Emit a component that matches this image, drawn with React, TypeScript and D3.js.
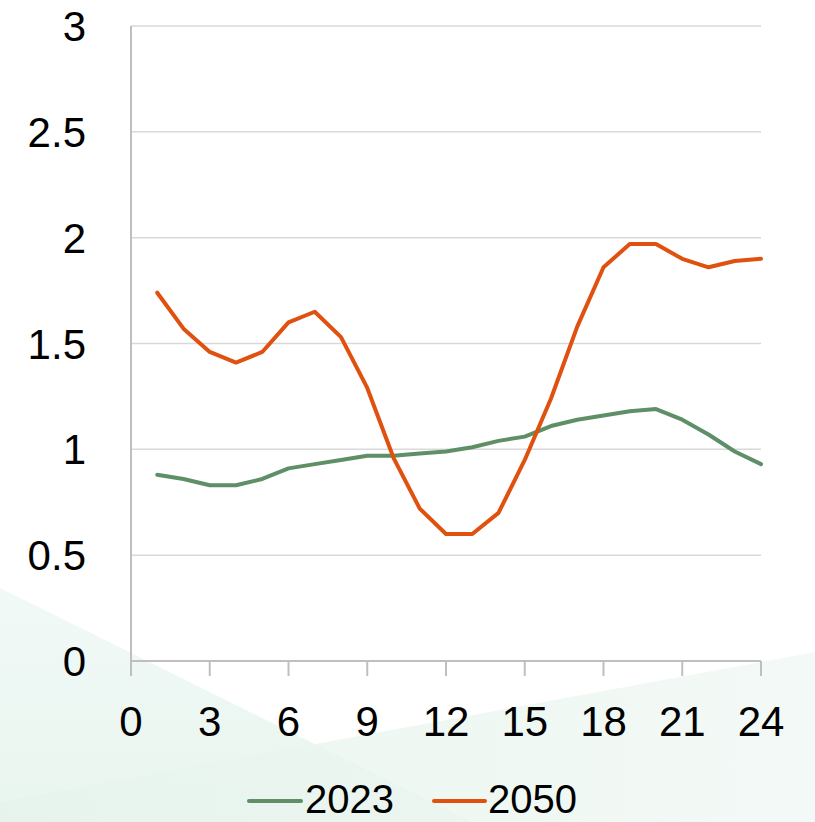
import React from "react";
import * as d3 from "d3";

const hours = d3.range(1, 25);
const series2023 = [0.88, 0.86, 0.83, 0.83, 0.86, 0.91, 0.93, 0.95, 0.97, 0.97, 0.98, 0.99, 1.01, 1.04, 1.06, 1.11, 1.14, 1.16, 1.18, 1.19, 1.14, 1.07, 0.99, 0.93];
const series2050 = [1.74, 1.57, 1.46, 1.41, 1.46, 1.6, 1.65, 1.53, 1.29, 0.96, 0.72, 0.6, 0.6, 0.7, 0.95, 1.24, 1.58, 1.86, 1.97, 1.97, 1.9, 1.86, 1.89, 1.9];
const yTicks = [0, 0.5, 1, 1.5, 2, 2.5, 3];
const xTicks = [0, 3, 6, 9, 12, 15, 18, 21, 24];
const seriesNames = ["2023", "2050"];
const colors = ["#5e8f66", "#e0500f"];

export default function App() {
  const W = 815, H = 822;
  const x = d3.scaleLinear().domain([0, 24]).range([131, 761]);
  const y = d3.scaleLinear().domain([0, 3]).range([661, 26]);
  const line = d3.line<number>().x((_, i) => x(hours[i])).y((d) => y(d));
  const font = "'Liberation Sans', Arial, sans-serif";
  const data = [series2023, series2050];
  return (
    <svg width={W} height={H} style={{ position: "absolute", left: 0, top: 0, background: "#fff" }}>
      <defs>
        <linearGradient id="bg1" x1="0" y1="0" x2="0" y2="1">
          <stop offset="0" stopColor="#eef8f4" />
          <stop offset="1" stopColor="#e3f2eb" />
        </linearGradient>
        <linearGradient id="bg2" x1="0" y1="0" x2="1" y2="0">
          <stop offset="0" stopColor="#e6f3ec" />
          <stop offset="1" stopColor="#f0f8f4" />
        </linearGradient>
      </defs>
      <g>
        <polygon points="0,588 472,822 0,822" fill="url(#bg1)" opacity={0.8} />
        <polygon points="0,802 815,652 815,822 0,822" fill="url(#bg2)" opacity={0.8} />
      </g>
      {yTicks.filter((t) => t > 0).map((t) => (
        <line key={t} x1={x(0)} x2={x(24)} y1={y(t)} y2={y(t)} stroke="#d9d9d9" strokeWidth={1.5} />
      ))}
      <line x1={x(0)} x2={x(0)} y1={y(3)} y2={676} stroke="#bfbfbf" strokeWidth={2} />
      <line x1={x(0)} x2={x(24)} y1={y(0)} y2={y(0)} stroke="#bfbfbf" strokeWidth={2} />
      {xTicks.map((t) => (
        <line key={t} x1={x(t)} x2={x(t)} y1={y(0)} y2={676} stroke="#bfbfbf" strokeWidth={2} />
      ))}
      {yTicks.map((t) => (
        <text key={t} x={86} y={y(t)} dy="0.36em" textAnchor="end" fontFamily={font} fontSize={42} fill="#000">
          {String(t)}
        </text>
      ))}
      {xTicks.map((t) => (
        <text key={t} x={x(t)} y={736} textAnchor="middle" fontFamily={font} fontSize={42} fill="#000">
          {String(t)}
        </text>
      ))}
      {data.map((s, i) => (
        <path key={i} d={line(s) || ""} fill="none" stroke={colors[i]} strokeWidth={4} strokeLinejoin="round" strokeLinecap="round" />
      ))}
      <g>
        <line x1={249} x2={301} y1={801} y2={801} stroke={colors[0]} strokeWidth={4} strokeLinecap="round" />
        <text x={305} y={813} fontFamily={font} fontSize={40} fill="#000">{seriesNames[0]}</text>
        <line x1={434} x2={485} y1={801} y2={801} stroke={colors[1]} strokeWidth={4} strokeLinecap="round" />
        <text x={488} y={813} fontFamily={font} fontSize={40} fill="#000">{seriesNames[1]}</text>
      </g>
    </svg>
  );
}
